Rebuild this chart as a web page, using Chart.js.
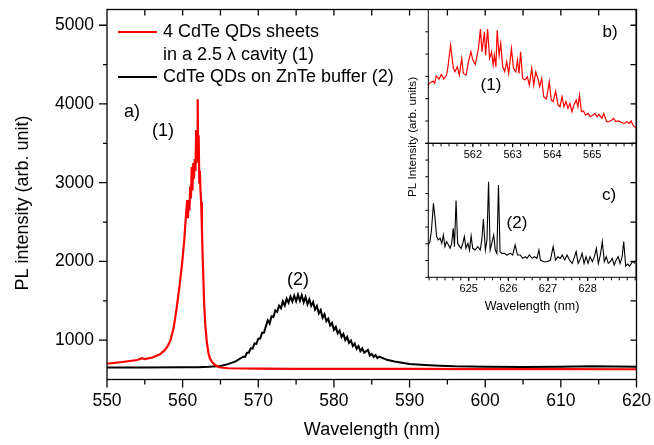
<!DOCTYPE html>
<html>
<head>
<meta charset="utf-8">
<script src="https://cdn.jsdelivr.net/npm/chart.js@4.4.1/dist/chart.umd.min.js"></script>
<style>
    html, body { margin: 0; padding: 0; background: #fff; }
    #wrap { position: relative; width: 654px; height: 445px; }
    canvas { position: absolute; left: 0; top: 0; }
</style>
</head>
<body>
<div id="wrap">
    <canvas id="mainChart" width="654" height="445"></canvas>
    <canvas id="insetB" width="654" height="445"></canvas>
    <canvas id="insetC" width="654" height="445"></canvas>
</div>
<script>
// main panel a)
const mainXTicks = [550, 560, 570, 580, 590, 600, 610, 620];
const mainYTicks = [1000, 2000, 3000, 4000, 5000];

// (1) 4 CdTe QDs sheets in a 2.5 lambda cavity
const cavityWl = [550, 551, 552, 553, 554, 554.6, 555, 556, 557, 557.6,
    558, 558.4, 558.8, 559.2, 559.6, 559.9, 560.2, 560.45, 560.6, 560.7,
    560.8, 560.9, 561, 561.1, 561.2, 561.3, 561.4, 561.5, 561.6, 561.7,
    561.78, 561.85, 561.92, 561.99, 562.05, 562.12, 562.2, 562.28, 562.36, 562.45,
    562.55, 562.65, 562.74, 562.85, 563, 563.19, 563.4, 563.6, 563.85, 564.2,
    564.6, 565, 566, 568, 570, 575, 580, 590, 600, 610, 620];
const cavityPL = [700, 712, 722, 735, 748, 770, 760, 780, 820, 870,
    920, 1000, 1150, 1400, 1700, 1950, 2250, 2600, 2780, 2550,
    2750, 2650, 2950, 2800, 3200, 2900, 3250, 3050, 3300, 3150,
    3670, 3250, 3500, 4060, 3300, 3600, 3000, 3150, 2900, 2750,
    2400, 2050, 1780, 1450, 1180, 980, 840, 770, 727, 690,
    665, 652, 643, 640, 638, 636, 635, 634, 633, 632, 630];

// (2) CdTe QDs on ZnTe buffer
const bufferWl = [550, 555, 560, 562, 563.5, 565, 566, 567,
    568, 568.25, 568.5, 568.75, 569, 569.25, 569.5, 569.75,
    570, 570.25, 570.5, 570.75, 571, 571.25, 571.5, 571.75,
    572, 572.25, 572.5, 572.75, 573, 573.25, 573.5, 573.75,
    574, 574.25, 574.5, 574.75, 575, 575.25, 575.5, 575.75,
    576, 576.25, 576.5, 576.75, 577, 577.25, 577.5, 577.75,
    578, 578.25, 578.5, 578.75, 579, 579.25, 579.5, 579.75,
    580, 580.25, 580.5, 580.75, 581, 581.25, 581.5, 581.75,
    582, 582.25, 582.5, 582.75, 583, 583.25, 583.5, 583.75,
    584, 584.25, 584.5, 584.75, 585, 585.25, 585.5, 585.75, 586,
    587, 588, 589, 590, 592, 594, 596, 600, 605, 610, 614, 617, 620];
const bufferPL = [652, 653, 655, 657, 662, 672, 695, 730,
    790, 788, 840, 841, 898, 892, 958, 952,
    1018, 1019, 1093, 1094, 1175, 1252, 1210, 1303,
    1295, 1377, 1360, 1437, 1405, 1493, 1440, 1527,
    1475, 1553, 1490, 1565, 1495, 1578, 1500, 1570,
    1480, 1548, 1455, 1517, 1435, 1483, 1390, 1435,
    1340, 1383, 1285, 1330, 1240, 1272, 1185, 1218,
    1130, 1168, 1085, 1122, 1040, 1080, 1000, 1040,
    965, 995, 925, 957, 890, 925, 860, 895,
    840, 857, 875, 805, 825, 787, 810, 772, 790,
    750, 728, 712, 697, 685, 676, 668, 662, 660, 663, 668, 664, 662];

// inset b)
const insetBTicks = [562, 563, 564, 565];
const insetBWl = [560.83, 560.90, 561.00, 561.04, 561.08, 561.15, 561.21, 561.27, 561.34, 561.38,
    561.44, 561.51, 561.55, 561.61, 561.66, 561.72, 561.76, 561.83, 561.89, 561.95,
    562.00, 562.06, 562.10, 562.14, 562.19, 562.23, 562.29, 562.32, 562.37, 562.42,
    562.47, 562.51, 562.54, 562.58, 562.61, 562.66, 562.70, 562.75, 562.80, 562.85,
    562.90, 562.97, 563.02, 563.08, 563.12, 563.16, 563.20, 563.25, 563.31, 563.37,
    563.42, 563.48, 563.53, 563.58, 563.63, 563.68, 563.73, 563.78, 563.85, 563.92,
    563.97, 564.02, 564.08, 564.14, 564.19, 564.24, 564.29, 564.34, 564.39, 564.44,
    564.49, 564.54, 564.60, 564.64, 564.68, 564.73, 564.78, 564.83, 564.90, 564.95,
    565.02, 565.07, 565.12, 565.17, 565.24, 565.29, 565.36, 565.42, 565.49, 565.54,
    565.59, 565.66, 565.73, 565.80, 565.87, 565.93, 565.98, 566.03, 566.10];
const insetBPL = [2.24, 2.69, 2.79, 2.69, 3.03, 2.88, 3.09, 2.88, 3.06, 3.51,
    4.40, 3.36, 3.21, 3.43, 3.06, 3.81, 3.13, 3.06, 3.66, 4.10,
    3.73, 3.54, 3.88, 4.25, 5.12, 4.10, 5.00, 3.95, 5.12, 3.81,
    4.10, 3.51, 3.95, 3.43, 5.07, 3.95, 4.48, 3.43, 3.21, 3.66,
    3.13, 4.25, 3.36, 3.21, 3.73, 3.13, 4.10, 2.91, 2.84, 2.98,
    2.61, 3.36, 2.61, 3.21, 2.94, 2.54, 2.91, 2.09, 1.98, 2.76,
    1.94, 1.87, 2.34, 1.72, 1.64, 2.09, 1.64, 1.87, 1.57, 1.79,
    1.42, 1.72, 1.94, 1.64, 2.16, 1.42, 1.45, 1.27, 1.34, 1.19,
    1.27, 1.34, 1.19, 1.30, 1.12, 1.34, 0.97, 0.97, 1.04, 1.12,
    0.97, 1.00, 0.94, 0.89, 0.97, 0.89, 1.00, 0.79, 0.70];

// inset c)
const insetCTicks = [625, 626, 627, 628];
const insetCWl = [623.96, 624.02, 624.06, 624.11, 624.15, 624.19, 624.23, 624.28, 624.32, 624.36,
    624.40, 624.44, 624.49, 624.53, 624.57, 624.61, 624.64, 624.68, 624.72, 624.77,
    624.81, 624.85, 624.89, 624.93, 624.98, 625.02, 625.06, 625.10, 625.16, 625.23,
    625.29, 625.33, 625.37, 625.42, 625.46, 625.50, 625.54, 625.58, 625.63, 625.67,
    625.71, 625.75, 625.79, 625.84, 625.90, 625.96, 626.05, 626.11, 626.17, 626.23,
    626.30, 626.36, 626.43, 626.47, 626.53, 626.60, 626.66, 626.72, 626.77, 626.81,
    626.89, 626.98, 627.06, 627.13, 627.19, 627.25, 627.31, 627.36, 627.42, 627.48,
    627.54, 627.61, 627.67, 627.71, 627.76, 627.82, 627.86, 627.91, 627.96, 628.01,
    628.06, 628.12, 628.17, 628.22, 628.27, 628.32, 628.37, 628.42, 628.47, 628.52,
    628.57, 628.62, 628.67, 628.72, 628.77, 628.82, 628.87, 628.91, 628.96, 629.01,
    629.06, 629.13, 629.20];
const insetCPL = [1.83, 2.13, 2.82, 4.42, 3.52, 2.43, 2.23, 2.33, 2.03, 2.53,
    1.83, 2.13, 1.93, 1.73, 2.03, 2.92, 1.83, 4.58, 2.03, 1.83,
    1.73, 2.03, 2.43, 1.73, 2.03, 1.63, 2.47, 1.73, 1.63, 1.83,
    1.63, 2.23, 3.48, 1.63, 2.23, 5.71, 1.63, 2.03, 2.53, 1.63,
    1.43, 5.51, 1.53, 1.43, 1.43, 1.33, 1.43, 1.33, 1.93, 1.33,
    1.33, 1.13, 1.23, 1.13, 1.33, 1.13, 1.23, 1.13, 1.63, 1.03,
    0.93, 0.93, 1.03, 1.83, 1.03, 1.23, 1.13, 1.33, 1.03, 1.33,
    1.03, 0.83, 1.23, 1.53, 0.83, 1.13, 1.43, 0.83, 1.23, 0.83,
    1.23, 0.93, 1.23, 1.73, 0.83, 1.33, 2.13, 0.93, 1.23, 0.83,
    0.93, 1.13, 0.73, 1.03, 1.23, 0.83, 1.23, 2.13, 0.67, 0.79,
    0.67, 0.93, 0.83];

const FONT = '"Liberation Sans", Arial, sans-serif';
Chart.defaults.font.family = FONT;
Chart.defaults.color = '#000';
Chart.defaults.animation = false;

const pts = (xs, ys) => xs.map((x, i) => ({ x: x, y: ys[i] }));
const fixedTicks = (arr) => (scale) => { scale.ticks = arr.map(v => ({ value: v })); };
// pin the scale size and drop the label overhang padding so the plot box lands where we want
const pinSize = (prop, size) => (s) => {
    s[prop] = size;
    s.paddingLeft = 0; s.paddingRight = 0; s.paddingTop = 0; s.paddingBottom = 0;
};

// frame, tick marks (in/out, major/minor) and free text
const decoPlugin = {
    id: 'deco',
    afterDatasetsDraw(chart, args, opts) {
        const ctx = chart.ctx;
        const a = chart.chartArea;
        ctx.save();
        ctx.strokeStyle = '#000';
        ctx.lineWidth = opts.lineWidth || 1;
        ctx.strokeRect(a.left, a.top, a.right - a.left, a.bottom - a.top);

        (opts.ticks || []).forEach(t => {
            const scale = chart.scales[t.axis];
            ctx.beginPath();
            for (let i = 0; ; i++) {
                const v = t.from + i * t.step;
                if (v > t.to + 1e-6) break;
                const p = scale.getPixelForValue(v);
                if (t.side === 'bottom') { ctx.moveTo(p, a.bottom); ctx.lineTo(p, a.bottom + t.len); }
                if (t.side === 'top') { ctx.moveTo(p, a.top); ctx.lineTo(p, a.top + t.len); }
                if (t.side === 'left') { ctx.moveTo(a.left, p); ctx.lineTo(a.left - t.len, p); }
                if (t.side === 'right') { ctx.moveTo(a.right, p); ctx.lineTo(a.right - t.len, p); }
            }
            ctx.stroke();
        });

        (opts.lines || []).forEach(l => {
            ctx.strokeStyle = l.color;
            ctx.lineWidth = l.width;
            ctx.beginPath();
            ctx.moveTo(l.x1, l.y);
            ctx.lineTo(l.x2, l.y);
            ctx.stroke();
        });

        ctx.fillStyle = '#000';
        (opts.texts || []).forEach(t => {
            ctx.save();
            ctx.font = t.size + 'px ' + FONT;
            ctx.textAlign = t.align || 'center';
            ctx.textBaseline = 'middle';
            ctx.translate(t.x, t.y);
            if (t.rotate) ctx.rotate(-Math.PI / 2);
            ctx.fillText(t.text, 0, 0);
            ctx.restore();
        });
        ctx.restore();
    }
};

new Chart(document.getElementById('mainChart'), {
    type: 'line',
    data: {
        datasets: [
            {
                label: '4 CdTe QDs sheets in a 2.5 λ cavity (1)',
                data: pts(cavityWl, cavityPL),
                borderColor: '#ff0000',
                borderWidth: 2.2
            },
            {
                label: 'CdTe QDs on ZnTe buffer (2)',
                data: pts(bufferWl, bufferPL),
                borderColor: '#000000',
                borderWidth: 2
            }
        ]
    },
    options: {
        responsive: false,
        layout: { padding: { left: 0, top: 9.5, right: 17.5, bottom: 0 } },
        elements: { point: { radius: 0 }, line: { tension: 0 } },
        scales: {
            x: {
                type: 'linear',
                min: 550,
                max: 620,
                afterBuildTicks: fixedTicks(mainXTicks),
                afterFit: pinSize('height', 65.5),
                grid: { display: false, drawTicks: false },
                border: { display: false },
                ticks: { font: { size: 17.5 }, padding: 11, maxRotation: 0, autoSkip: false,
                    callback: (v) => String(v) }
            },
            y: {
                type: 'linear',
                min: 500,
                max: 5200,
                afterBuildTicks: fixedTicks(mainYTicks),
                afterFit: pinSize('width', 107),
                grid: { display: false, drawTicks: false },
                border: { display: false },
                ticks: { font: { size: 17.5 }, padding: 13, callback: (v) => String(v) }
            }
        },
        plugins: {
            legend: { display: false },
            tooltip: { enabled: false },
            deco: {
                lineWidth: 1.3,
                ticks: [
                    { axis: 'x', side: 'bottom', from: 550, to: 620, step: 10, len: 8 },
                    { axis: 'x', side: 'bottom', from: 555, to: 615, step: 10, len: 5 },
                    { axis: 'x', side: 'top', from: 555, to: 615, step: 5, len: 6 },
                    { axis: 'y', side: 'left', from: 1000, to: 5000, step: 1000, len: 8 },
                    { axis: 'y', side: 'left', from: 1500, to: 4500, step: 1000, len: 4 },
                    { axis: 'y', side: 'right', from: 1000, to: 5000, step: 500, len: 6 }
                ],
                lines: [
                    { x1: 118, x2: 157, y: 32, color: '#ff0000', width: 2 },
                    { x1: 118, x2: 157, y: 77, color: '#000000', width: 2 }
                ],
                texts: [
                    { text: '4 CdTe QDs sheets', x: 163, y: 32, size: 18, align: 'left' },
                    { text: 'in a 2.5 λ cavity (1)', x: 163, y: 55, size: 18, align: 'left' },
                    { text: 'CdTe QDs on ZnTe buffer (2)', x: 163, y: 77, size: 18, align: 'left' },
                    { text: 'PL intensity (arb. unit)', x: 23, y: 203, size: 18, rotate: true },
                    { text: 'Wavelength (nm)', x: 372, y: 430, size: 18 },
                    { text: 'a)', x: 132, y: 112, size: 18 },
                    { text: '(1)', x: 163, y: 131, size: 18 },
                    { text: '(2)', x: 298, y: 280, size: 18 }
                ]
            }
        }
    },
    plugins: [decoPlugin]
});

new Chart(document.getElementById('insetB'), {
    type: 'line',
    data: {
        datasets: [{
            data: pts(insetBWl, insetBPL),
            borderColor: '#ff0000',
            borderWidth: 1.2
        }]
    },
    options: {
        responsive: false,
        layout: { padding: { left: 428.3, top: 9.5, right: 18, bottom: 0 } },
        elements: { point: { radius: 0 }, line: { tension: 0 } },
        scales: {
            x: {
                type: 'linear',
                min: 560.88,
                max: 566.1,
                afterBuildTicks: fixedTicks(insetBTicks),
                afterFit: pinSize('height', 445 - 143.3),
                grid: { display: false, drawTicks: false },
                border: { display: false },
                ticks: { font: { size: 11 }, padding: 5, maxRotation: 0, autoSkip: false,
                    callback: (v) => String(v) }
            },
            y: { type: 'linear', display: false, min: 0, max: 6 }
        },
        plugins: {
            legend: { display: false },
            tooltip: { enabled: false },
            deco: {
                lineWidth: 1,
                ticks: [
                    { axis: 'y', side: 'left', from: 0, to: 6, step: 1, len: 3 },
                    { axis: 'x', side: 'bottom', from: 561, to: 566, step: 0.2, len: 3 },
                    { axis: 'x', side: 'bottom', from: 562, to: 565, step: 1, len: 4 }
                ],
                texts: [
                    { text: 'b)', x: 610, y: 32.5, size: 17 },
                    { text: '(1)', x: 491, y: 85, size: 17 },
                    { text: 'PL Intensity (arb. units)', x: 413, y: 137, size: 11.7, rotate: true }
                ]
            }
        }
    },
    plugins: [decoPlugin]
});

new Chart(document.getElementById('insetC'), {
    type: 'line',
    data: {
        datasets: [{
            data: pts(insetCWl, insetCPL),
            borderColor: '#000000',
            borderWidth: 1.1
        }]
    },
    options: {
        responsive: false,
        layout: { padding: { left: 428.3, top: 143.3, right: 18, bottom: 0 } },
        elements: { point: { radius: 0 }, line: { tension: 0 } },
        scales: {
            x: {
                type: 'linear',
                min: 623.98,
                max: 629.22,
                afterBuildTicks: fixedTicks(insetCTicks),
                afterFit: pinSize('height', 445 - 277.3),
                grid: { display: false, drawTicks: false },
                border: { display: false },
                ticks: { font: { size: 11 }, padding: 5, maxRotation: 0, autoSkip: false,
                    callback: (v) => String(v) }
            },
            y: { type: 'linear', display: false, min: 0, max: 8 }
        },
        plugins: {
            legend: { display: false },
            tooltip: { enabled: false },
            deco: {
                lineWidth: 1,
                ticks: [
                    { axis: 'y', side: 'left', from: 0, to: 8, step: 1, len: 3 },
                    { axis: 'x', side: 'bottom', from: 624, to: 629.2, step: 0.2, len: 3 },
                    { axis: 'x', side: 'bottom', from: 625, to: 628, step: 1, len: 4 }
                ],
                texts: [
                    { text: 'c)', x: 609, y: 195, size: 17 },
                    { text: '(2)', x: 517, y: 223, size: 17 },
                    { text: 'Wavelength (nm)', x: 532, y: 307, size: 12.5 }
                ]
            }
        }
    },
    plugins: [decoPlugin]
});
</script>
</body>
</html>
